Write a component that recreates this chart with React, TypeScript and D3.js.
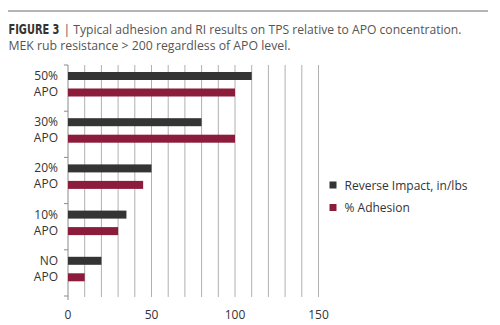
import React, { useLayoutEffect, useRef, useState } from "react";
import * as d3 from "d3";

const categories = ["50%|APO", "30%|APO", "20%|APO", "10%|APO", "NO|APO"];
const reverseImpact = [110, 80, 50, 35, 20];
const adhesion = [100, 100, 45, 30, 10];
const xTicks = [0, 50, 100, 150];
const seriesNames = ["Reverse Impact, in/lbs", "% Adhesion"];
const seriesColors = ["#343434", "#8c1c3c"];

const FONT = "'Open Sans', 'Noto Sans', sans-serif";

export default function App() {
  const figRef = useRef<SVGTextElement>(null);
  const [figScale, setFigScale] = useState(0.7);
  useLayoutEffect(() => {
    if (figRef.current) {
      const w = figRef.current.getComputedTextLength();
      if (w > 0) setFigScale(51 / w);
    }
  }, []);
  const left = 68, right = 318.5, top = 65, bottom = 296;
  const x = d3.scaleLinear().domain([0, 150]).range([left, right]);
  const y = d3.scaleBand().domain(categories).range([top, bottom]);
  const bw = y.bandwidth();
  const barH = 8;
  const grid = d3.range(0, 151, 10);
  return (
    <svg width={500} height={325} style={{ position: "absolute", left: 0, top: 0, background: "#fff" }}>
      <line x1={8} x2={488} y1={11} y2={11} stroke="#6a6a6a" strokeWidth={1} />
      <g transform={`translate(8.5,33.5) scale(${figScale},1)`}>
        <text ref={figRef} x={0} y={0} fontFamily="'DejaVu Sans Condensed', 'DejaVu Sans', sans-serif" fontWeight="bold" fontSize={14} fill="#333">FIGURE 3</text>
      </g>
      <text x={63.5} y={33.5} fontFamily={FONT} fontSize={13} fill="#555" textLength={398} lengthAdjust="spacingAndGlyphs">| Typical adhesion and RI results on TPS relative to APO concentration.</text>
      <text x={8.5} y={50} fontFamily={FONT} fontSize={13} fill="#555" textLength={282} lengthAdjust="spacingAndGlyphs">MEK rub resistance &gt; 200 regardless of APO level.</text>

      {grid.map((g) => (
        <line key={g} x1={x(g)} x2={x(g)} y1={top} y2={g === 0 ? 300 : 297} stroke={g === 0 ? "#8a8a8a" : "#b0b0b0"} strokeWidth={1} />
      ))}
      {d3.range(0, categories.length + 1).map((i) => (
        <line key={i} x1={64} x2={left} y1={top + i * bw} y2={top + i * bw} stroke="#8a8a8a" strokeWidth={1} />
      ))}

      {categories.map((c, i) => {
        const y0 = y(c)!;
        const [l1, l2] = c.split("|");
        return (
          <g key={c}>
            <rect x={x(0)} y={y0 + 7} width={x(reverseImpact[i]) - x(0)} height={barH} fill={seriesColors[0]} />
            <rect x={x(0)} y={y0 + 23.5} width={x(adhesion[i]) - x(0)} height={barH} fill={seriesColors[1]} />
            <text x={58} y={y0 + 15} textAnchor="end" fontFamily={FONT} fontSize={12} fill="#333">{l1}</text>
            <text x={58} y={y0 + 31} textAnchor="end" fontFamily={FONT} fontSize={12} fill="#333">{l2}</text>
          </g>
        );
      })}

      {xTicks.map((t) => (
        <text key={t} x={x(t)} y={319} textAnchor="middle" fontFamily={FONT} fontSize={12} fill="#333">{t}</text>
      ))}

      {seriesNames.map((s, i) => (
        <g key={s}>
          <rect x={329.5} y={181.5 + i * 22.5} width={7} height={7} fill={seriesColors[i]} />
          <text x={344.5} y={189.5 + i * 22.5} fontFamily={FONT} fontSize={12} fill="#333">{s}</text>
        </g>
      ))}
    </svg>
  );
}
